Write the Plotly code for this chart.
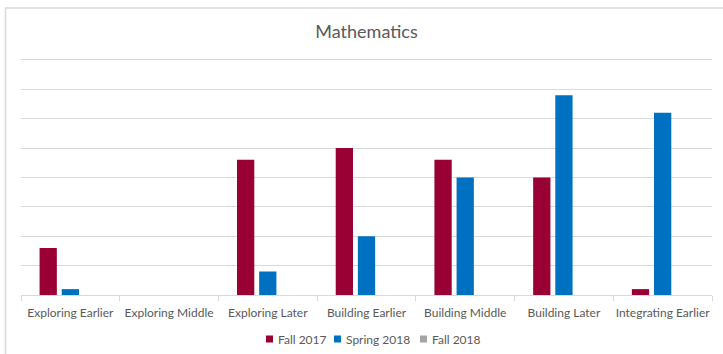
import plotly.graph_objects as go

categories = ["Exploring Earlier", "Exploring Middle", "Exploring Later", "Building Earlier",
              "Building Middle", "Building Later", "Integrating Earlier"]
fall_2017 = [8, 0, 23, 25, 23, 20, 1]
spring_2018 = [1, 0, 4, 10, 20, 34, 31]
fall_2018 = [None, None, None, None, None, None, None]
series_names = ["Fall 2017", "Spring 2018", "Fall 2018"]
series_values = [fall_2017, spring_2018, fall_2018]
series_colors = ["#990033", "#0070C0", "#A5A5A5"]

fig = go.Figure()
for name, vals, col in zip(series_names, series_values, series_colors):
    fig.add_trace(go.Bar(
        x=categories, y=vals, name=name, showlegend=False,
        marker=dict(color=col, line=dict(width=0)),
    ))

font_family = "Lato, 'Open Sans', sans-serif"
W, H = 723, 354
ml, mr, mt, mb = 21, 11, 57, 59
pw, ph = W - ml - mr, H - mt - mb

def px_x(x):
    return (x - ml) / pw

def px_y(y):
    return (ph - (y - mt)) / ph

# custom legend (Excel-style small squares)
legend_sq_x = [266, 334, 420]
shapes = [dict(type="rect", xref="paper", yref="paper",
               x0=px_x(5.5), x1=px_x(W + 20), y0=px_y(H + 20), y1=px_y(8),
               line=dict(color="#D9D9D9", width=1.5), layer="below")]
annotations = []
for name, col, lx in zip(series_names, series_colors, legend_sq_x):
    shapes.append(dict(type="rect", xref="paper", yref="paper",
                       x0=px_x(lx), x1=px_x(lx + 7), y0=px_y(342.5), y1=px_y(335.5),
                       fillcolor=col, line=dict(width=0)))
    annotations.append(dict(text=name, xref="paper", yref="paper",
                            x=px_x(lx + 9.5), y=px_y(339), xanchor="left", yanchor="middle",
                            showarrow=False, font=dict(size=12, color="#595959")))

fig.update_layout(
    width=W, height=H,
    margin=dict(l=ml, r=mr, t=mt, b=mb, pad=0, autoexpand=False),
    paper_bgcolor="white", plot_bgcolor="white",
    barmode="group", bargap=0.327, bargroupgap=0.22,
    font=dict(family=font_family, color="#595959", size=12),
    title=dict(text="Mathematics", x=0.5, xref="paper", xanchor="center",
               y=1 - 32 / H, yref="container", yanchor="middle",
               font=dict(size=18, color="#595959", family=font_family)),
    showlegend=False,
    xaxis=dict(showgrid=False, showline=True, linecolor="#D9D9D9", linewidth=1,
               ticks="outside", tickson="boundaries", ticklen=5, tickcolor="#D9D9D9",
               tickangle=0, automargin=False, ticklabelstandoff=7,
               tickfont=dict(size=12, color="#595959"), fixedrange=True),
    yaxis=dict(range=[0, 40.5], tick0=0, dtick=5, showgrid=True, gridcolor="#D9D9D9",
               gridwidth=1, showticklabels=False, zeroline=False, showline=False,
               automargin=False, fixedrange=True),
    shapes=shapes,
    annotations=annotations,
)

fig.write_html("out.html")
